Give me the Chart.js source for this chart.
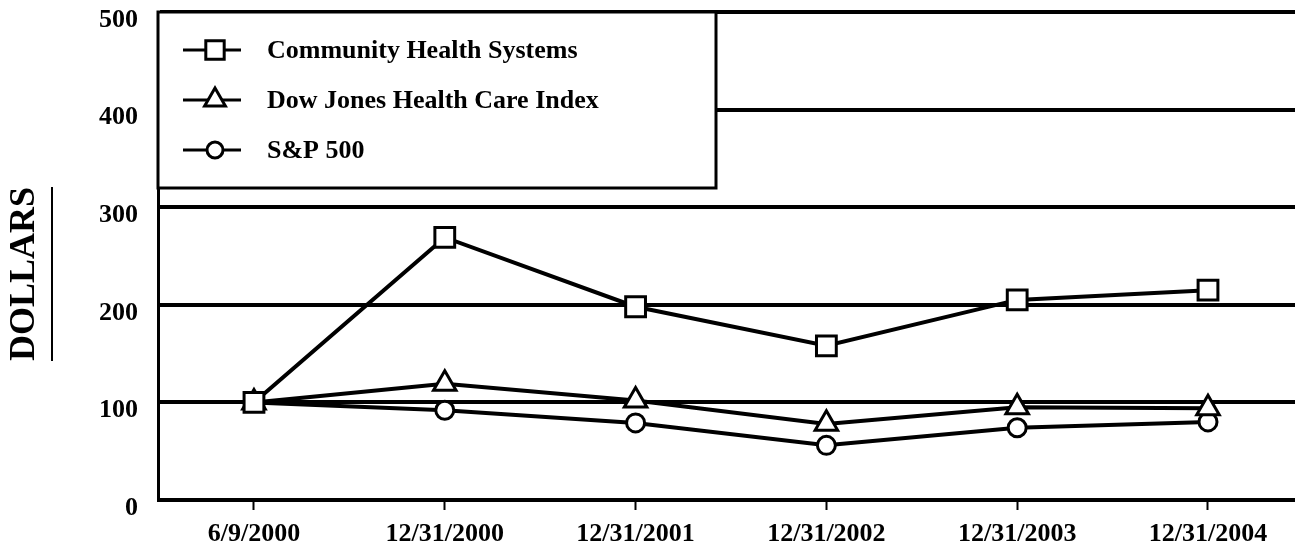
<!DOCTYPE html>
<html>
<head>
<meta charset="utf-8">
<script src="https://cdn.jsdelivr.net/npm/chart.js@4/dist/chart.umd.min.js"></script>
<style>
  html, body { margin: 0; padding: 0; background: #fff; overflow: hidden; }
</style>
</head>
<body>
<canvas id="perf" width="1295" height="546"></canvas>
<script>
// values
var dates = ['6/9/2000', '12/31/2000', '12/31/2001', '12/31/2002', '12/31/2003', '12/31/2004'];
var chs = [100, 269, 198, 158, 205, 215];
var djhc = [100, 119, 102, 78, 95, 94];
var sp500 = [100, 92, 79, 56, 74, 80];
var yTicks = [0, 100, 200, 300, 400, 500];

var serif = "'Liberation Serif', 'Times New Roman', serif";

function pts(arr) {
    return arr.map(function(v, i) { return { x: i, y: v }; });
}

function series(label, arr, style, r) {
    return {
        label: label,
        data: pts(arr),
        borderColor: '#000',
        borderWidth: 4,
        pointStyle: style,
        pointRadius: r,
        pointBorderWidth: 3,
        pointBackgroundColor: '#fff',
        pointBorderColor: '#000',
        tension: 0
    };
}

// boxed legend in the upper-left corner, drawn over the 400 gridline
var boxLegend = {
    id: 'boxLegend',
    beforeDatasetsDraw: function(chart) {
        var ctx = chart.ctx;
        var a = chart.chartArea;
        var x0 = a.left, y0 = a.top, w = 558, h = 176;
        ctx.save();
        ctx.fillStyle = '#fff';
        ctx.fillRect(x0, y0, w, h);
        ctx.strokeStyle = '#000';
        ctx.lineWidth = 3;
        ctx.strokeRect(x0, y0, w, h);
        chart.data.datasets.forEach(function(ds, i) {
            var cy = y0 + 38 + i * 50;
            ctx.strokeStyle = '#000';
            ctx.lineWidth = 3;
            ctx.beginPath();
            ctx.moveTo(x0 + 25, cy);
            ctx.lineTo(x0 + 83, cy);
            ctx.stroke();
            ctx.fillStyle = '#fff';
            ctx.lineWidth = 3;
            Chart.helpers.drawPoint(ctx, { pointStyle: ds.pointStyle, radius: ds.pointRadius - 1, rotation: 0, borderWidth: 3 }, x0 + 57, cy);
            ctx.fillStyle = '#000';
            ctx.font = 'bold 26px ' + serif;
            ctx.textAlign = 'left';
            ctx.textBaseline = 'middle';
            ctx.fillText(ds.label, x0 + 109, cy + 1);
        });
        ctx.restore();
    }
};

// rotated, underlined axis title
var dollarsTitle = {
    id: 'dollarsTitle',
    afterDraw: function(chart) {
        var ctx = chart.ctx;
        var cx = 25, cy = 274;
        ctx.save();
        ctx.font = 'bold 36px ' + serif;
        var tw = ctx.measureText('DOLLARS').width;
        ctx.translate(cx, cy);
        ctx.rotate(-Math.PI / 2);
        ctx.fillStyle = '#000';
        ctx.textAlign = 'center';
        ctx.textBaseline = 'middle';
        ctx.fillText('DOLLARS', 0, 0);
        ctx.strokeStyle = '#000';
        ctx.lineWidth = 2;
        ctx.beginPath();
        ctx.moveTo(-tw / 2, 27);
        ctx.lineTo(tw / 2, 27);
        ctx.stroke();
        ctx.restore();
    }
};

var ctx = document.getElementById('perf').getContext('2d');
var myChart = new Chart(ctx, {
    type: 'line',
    data: {
        datasets: [
            series('Community Health Systems', chs, 'rect', 14),
            series('Dow Jones Health Care Index', djhc, 'triangle', 13),
            series('S&P 500', sp500, 'circle', 9)
        ]
    },
    options: {
        responsive: false,
        animation: false,
        layout: { autoPadding: false, padding: { top: 12, left: 0, right: 0, bottom: 0 } },
        plugins: {
            legend: { display: false },
            tooltip: { enabled: false }
        },
        scales: {
            x: {
                type: 'linear',
                min: -0.503,
                max: 5.456,
                afterFit: function(s) { s.height = 46; s.paddingLeft = 0; s.paddingRight = 0; },
                afterBuildTicks: function(s) {
                    s.ticks = dates.map(function(d, i) { return { value: i }; });
                },
                ticks: {
                    includeBounds: false,
                    maxRotation: 0,
                    autoSkip: false,
                    padding: 9,
                    color: '#000',
                    font: { family: serif, size: 26, weight: 'bold' },
                    callback: function(v) { return dates[v]; }
                },
                grid: {
                    drawOnChartArea: false,
                    drawTicks: true,
                    tickLength: 10,
                    tickWidth: 2,
                    tickColor: '#000'
                },
                border: { display: true, color: '#000', width: 3 }
            },
            y: {
                min: 0,
                max: 500,
                afterFit: function(s) { s.width = 158; s.paddingTop = 0; s.paddingBottom = 0; },
                afterBuildTicks: function(s) {
                    s.ticks = yTicks.map(function(v) { return { value: v }; });
                },
                ticks: {
                    padding: 20,
                    labelOffset: 8,
                    color: '#000',
                    font: { family: serif, size: 26, weight: 'bold' }
                },
                grid: {
                    drawTicks: false,
                    color: '#000',
                    lineWidth: 4
                },
                border: { display: true, color: '#000', width: 3 }
            }
        }
    },
    plugins: [boxLegend, dollarsTitle]
});
</script>
</body>
</html>
